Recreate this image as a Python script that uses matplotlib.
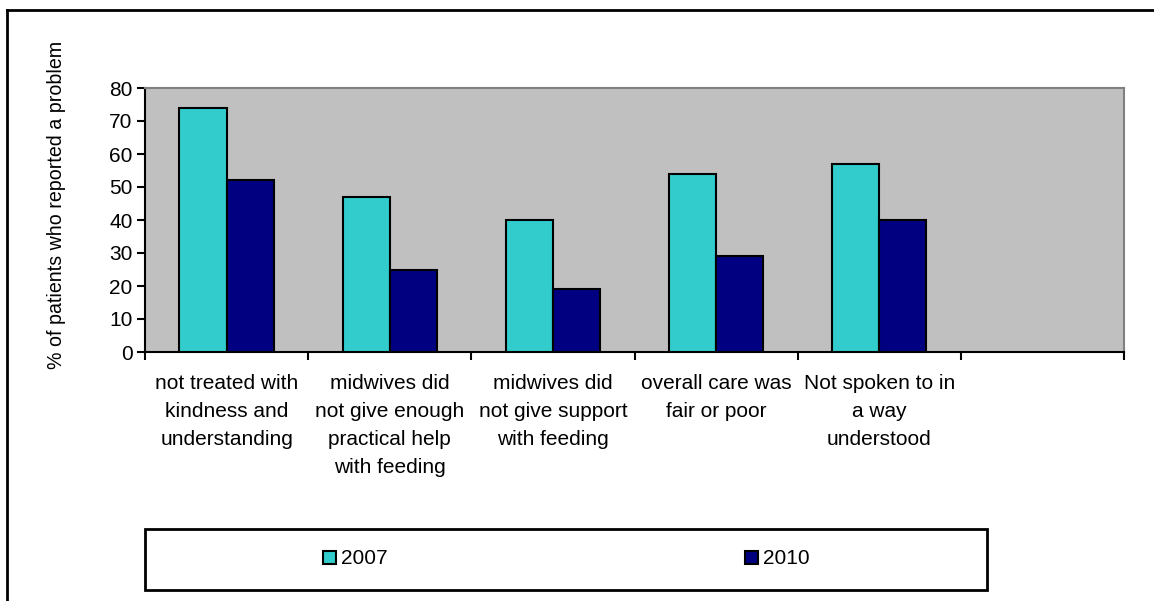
import matplotlib
matplotlib.use("Agg")
import matplotlib.pyplot as plt
from matplotlib.patches import Rectangle
from matplotlib.lines import Line2D
import numpy as np

plt.rcParams['font.family'] = ['Liberation Sans', 'DejaVu Sans']

categories = ["not treated with\nkindness and\nunderstanding",
              "midwives did\nnot give enough\npractical help\nwith feeding",
              "midwives did\nnot give support\nwith feeding",
              "overall care was\nfair or poor",
              "Not spoken to in\na way\nunderstood",
              ""]
series_names = ["2007", "2010"]
values_2007 = [74, 47, 40, 54, 57, np.nan]
values_2010 = [52, 25, 19, 29, 40, np.nan]
colors = ["#33CCCC", "#000080"]

W, H = 1154, 601
fig = plt.figure(figsize=(W / 100, H / 100), dpi=100)

def fx(px):
    return px / W

def fy(py):
    return 1 - py / H

FS = 15
left, right, top, bottom = 145, 1124, 88, 352
ax = fig.add_axes([fx(left), fy(bottom), fx(right - left), (bottom - top) / H])
ax.set_facecolor("#C0C0C0")

n = len(categories)
x = np.arange(n)
bw = 0.289
for i, (vals, c, name) in enumerate(zip([values_2007, values_2010], colors, series_names)):
    ax.bar(x + (i - 0.5) * bw, vals, width=bw, color=c, edgecolor="black",
           linewidth=1.5, label=name, zorder=3)

ax.set_xlim(-0.5, n - 0.5)
ax.set_ylim(0, 80)
ax.set_yticks(range(0, 81, 10))
ax.set_xticks(np.arange(-0.5, n, 1.0))
ax.set_xticklabels([])
ax.tick_params(axis='x', direction='out', length=6, width=1.5, color='black')
ax.tick_params(axis='y', direction='out', length=6, width=1.5, color='black',
               labelsize=FS, pad=3)
for s in ['left', 'bottom']:
    ax.spines[s].set_color('black')
    ax.spines[s].set_linewidth(1.5)
for s in ['top', 'right']:
    ax.spines[s].set_color('#808080')
    ax.spines[s].set_linewidth(1.5)

for i, lab in enumerate(categories):
    if lab:
        ax.text(i, -0.085, lab, transform=ax.get_xaxis_transform(), ha='center', va='top',
                fontsize=FS, linespacing=1.58)

fig.text(fx(57), fy(205), "% of patients who reported a problem", rotation=90,
         ha='center', va='center', fontsize=14.1)

# legend box
fig.patches.append(Rectangle((fx(145), fy(590)), fx(987 - 145), (590 - 529) / H,
                             transform=fig.transFigure, facecolor='white',
                             edgecolor='black', linewidth=2))
for name, c, mx in zip(series_names, colors, [323, 745]):
    fig.patches.append(Rectangle((fx(mx), fy(564)), fx(13), 13 / H,
                                 transform=fig.transFigure, facecolor=c,
                                 edgecolor='black', linewidth=1.5))
    fig.text(fx(mx + 18), fy(558), name, ha='left', va='center', fontsize=FS)

# outer border (left and top only visible)
fig.lines.append(Line2D([fx(7), fx(7)], [0, fy(10)], transform=fig.transFigure,
                        color='black', linewidth=2))
fig.lines.append(Line2D([fx(7), 1], [fy(10), fy(10)], transform=fig.transFigure,
                        color='black', linewidth=2))

fig.savefig("out.png", dpi=100)
